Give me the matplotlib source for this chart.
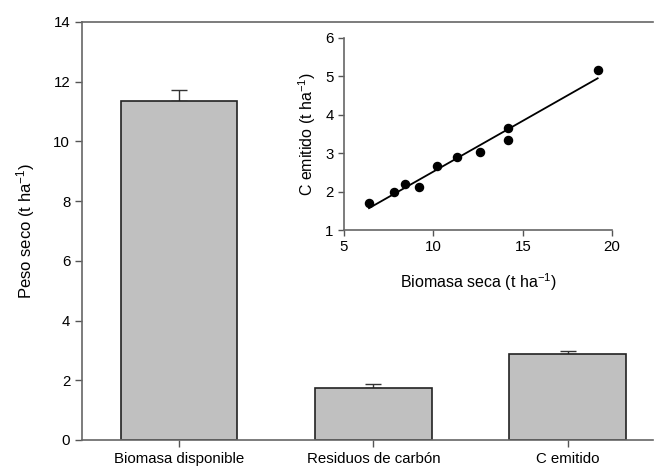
import numpy as np
import matplotlib
matplotlib.use("Agg")
import matplotlib.pyplot as plt

plt.rcParams['font.family'] = ['Liberation Sans', 'DejaVu Sans']
plt.rcParams['mathtext.fontset'] = 'custom'
plt.rcParams['mathtext.rm'] = 'Liberation Sans'
plt.rcParams['mathtext.it'] = 'Liberation Sans'

# bar data
categories = ["Biomasa disponible", "Residuos de carbón", "C emitido"]
peso_seco = [11.36, 1.75, 2.88]
peso_err = [0.36, 0.11, 0.11]

# inset scatter data
biomasa_seca = [6.40, 7.81, 8.42, 9.21, 10.20, 11.30, 12.61, 14.16, 14.18, 19.19]
c_emitido = [1.71, 1.98, 2.20, 2.11, 2.67, 2.90, 3.03, 3.65, 3.35, 5.17]

fig = plt.figure(figsize=(6.54, 4.72), dpi=100)
ax = fig.add_axes([0.1254, 0.0678, 0.8731, 0.8856])

x = np.arange(len(categories))
ax.bar(x, peso_seco, width=0.6, color='#c0c0c0', edgecolor='#222222', linewidth=1.2, zorder=2)
ax.errorbar(x, peso_seco, yerr=[np.zeros(len(peso_err)), peso_err], fmt='none',
            ecolor='#333333', elinewidth=1, capsize=6, capthick=1, zorder=1)
ax.set_xlim(-0.5, 2.44)
ax.set_ylim(0, 14)
ax.set_yticks(range(0, 15, 2))
ax.set_xticks(x)
ax.set_xticklabels(categories)
ax.set_ylabel('Peso seco (t ha$^{-1}$)', fontsize=12, labelpad=12)
ax.tick_params(direction='out', length=5, width=1, labelsize=10.8, color='#555555')
ax.spines['right'].set_visible(False)
for s in ['left', 'bottom', 'top']:
    ax.spines[s].set_color('#666666')
    ax.spines[s].set_linewidth(1.2)

# inset regression
ins = fig.add_axes([0.526, 0.5127, 0.410, 0.4068])
ins.scatter(biomasa_seca, c_emitido, s=34, color='black', zorder=3)
slope, intercept = np.polyfit(biomasa_seca, c_emitido, 1)
xl = np.array([min(biomasa_seca), max(biomasa_seca)])
ins.plot(xl, intercept + slope * xl, color='black', linewidth=1.3)
ins.set_xlim(5, 20)
ins.set_ylim(1, 6)
ins.set_xticks([5, 10, 15, 20])
ins.set_yticks(range(1, 7))
ins.set_xlabel('Biomasa seca (t ha$^{-1}$)', fontsize=11.5, labelpad=12)
ins.set_ylabel('C emitido (t ha$^{-1}$)', fontsize=11.5, labelpad=5)
ins.tick_params(direction='out', length=4, width=1, labelsize=10.8, color='#555555')
ins.spines['right'].set_visible(False)
ins.spines['top'].set_visible(False)
for s in ['left', 'bottom']:
    ins.spines[s].set_color('#666666')
    ins.spines[s].set_linewidth(1.2)

fig.savefig('out.png', dpi=100)
